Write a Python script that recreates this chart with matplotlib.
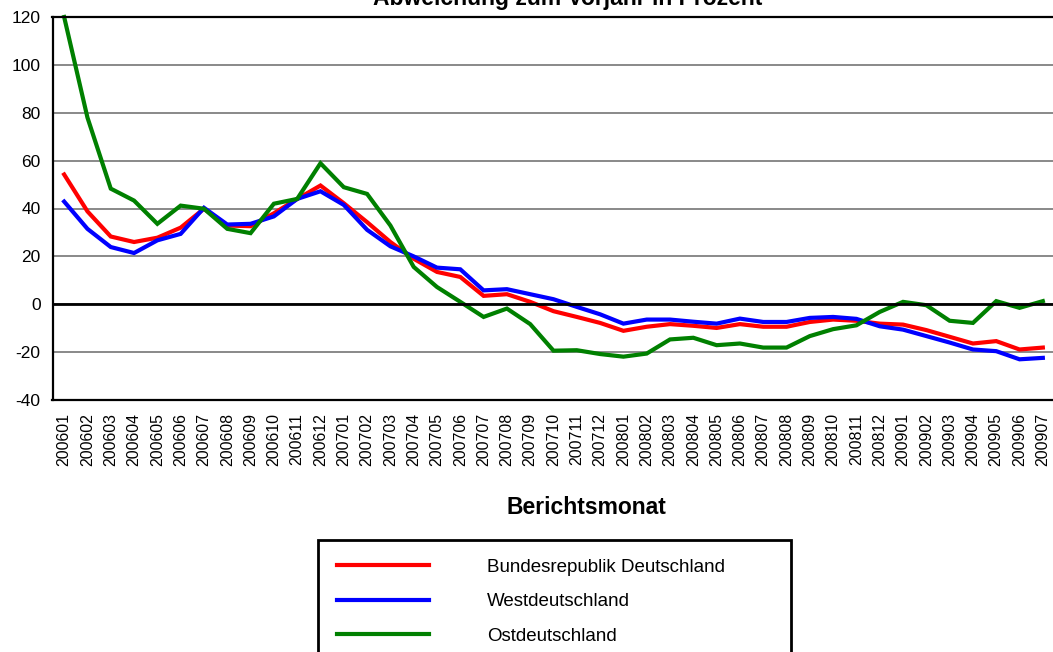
import numpy as np
import matplotlib.pyplot as plt

plt.rcParams['font.family'] = ['Liberation Sans', 'DejaVu Sans']
plt.rcParams['axes.unicode_minus'] = False

# Berichtsmonate 200601 .. 200907
months = [f"{y}{m:02d}" for y in (2006, 2007, 2008) for m in range(1, 13)] + \
         [f"2009{m:02d}" for m in range(1, 8)]

bund = [54.2, 38.8, 28.3, 26.0, 27.8, 32.0, 39.9, 32.9, 32.6, 38.0,
        44.0, 49.6, 42.2, 34.3, 26.0, 19.0, 13.5, 11.4, 3.5, 4.2,
        1.0, -2.9, -5.3, -7.8, -11.1, -9.4, -8.3, -9.0, -9.9, -8.3,
        -9.4, -9.4, -7.4, -6.4, -6.9, -8.1, -8.5, -10.8, -13.6, -16.4,
        -15.4, -18.9, -18.1]

west = [42.9, 31.5, 23.9, 21.4, 26.7, 29.4, 40.3, 33.3, 33.6, 36.7,
        44.0, 47.2, 41.5, 31.1, 24.2, 20.0, 15.3, 14.6, 5.8, 6.3,
        4.2, 2.1, -1.1, -4.2, -8.1, -6.4, -6.4, -7.3, -8.1, -6.0,
        -7.4, -7.4, -5.7, -5.3, -6.1, -9.2, -10.6, -13.3, -16.0, -18.9,
        -19.6, -23.0, -22.4]

ost = [120.0, 78.0, 48.3, 43.3, 33.6, 41.2, 39.9, 31.5, 29.7, 42.0,
       44.0, 58.9, 48.9, 46.1, 32.9, 15.6, 7.2, 1.0, -5.3, -1.8,
       -8.3, -19.4, -19.2, -20.8, -21.9, -20.6, -14.7, -14.0, -17.1, -16.4,
       -18.1, -18.1, -13.3, -10.4, -8.8, -3.2, 1.0, -0.4, -6.9, -7.8,
       1.3, -1.5, 1.3]

labels = ["Bundesrepublik Deutschland", "Westdeutschland", "Ostdeutschland"]
colors = ["#ff0000", "#0000ff", "#008000"]

#%%

fig = plt.figure(figsize=(10.53, 6.52), dpi=100)
ax = fig.add_axes([52.5/1053, 1-400/652, (1054.5-52.5)/1053, (400-17)/652])

x = np.arange(len(months))
for vals, lab, col in zip([bund, west, ost], labels, colors):
    ax.plot(x, vals, color=col, lw=3, label=lab, solid_joinstyle='miter', clip_on=False)

ax.set_xlim(-0.5, len(months) - 0.5)
ax.set_ylim(-40, 120)
ax.set_yticks(np.arange(-40, 121, 20))
ax.set_xticks(x)
ax.set_xticklabels(months, rotation=90, fontsize=11.4)
ax.tick_params(axis='y', length=0, pad=8.5, labelsize=12.5)
ax.tick_params(axis='x', length=0, pad=9.5)

ax.grid(axis='y', color='#808080', lw=1.3)
ax.axhline(0, color='black', lw=2)
ax.set_axisbelow(True)
for s in ['left', 'bottom', 'top']:
    ax.spines[s].set_linewidth(1.6)
    ax.spines[s].set_color('black')
ax.spines['right'].set_visible(False)

fig.text(567.5/1053, 1-5/652, "Abweichung zum Vorjahr in Prozent", ha='center',
         va='baseline', fontsize=16.5, fontweight='bold')
fig.text(586/1053, 1-507/652, "Berichtsmonat", ha='center', va='center',
         fontsize=16.5, fontweight='bold')

leg = fig.legend(loc='upper left', bbox_to_anchor=(318/1053, 1-540/652-0.01, 473/1053, 0.01),
                 mode='expand', fontsize=13.5, handlelength=4.9, handletextpad=3.1,
                 labelspacing=0.93, borderpad=1.0, borderaxespad=0, fancybox=False,
                 framealpha=1, edgecolor='black')
leg.get_frame().set_linewidth(2)

plt.savefig('out.png', dpi=100)
